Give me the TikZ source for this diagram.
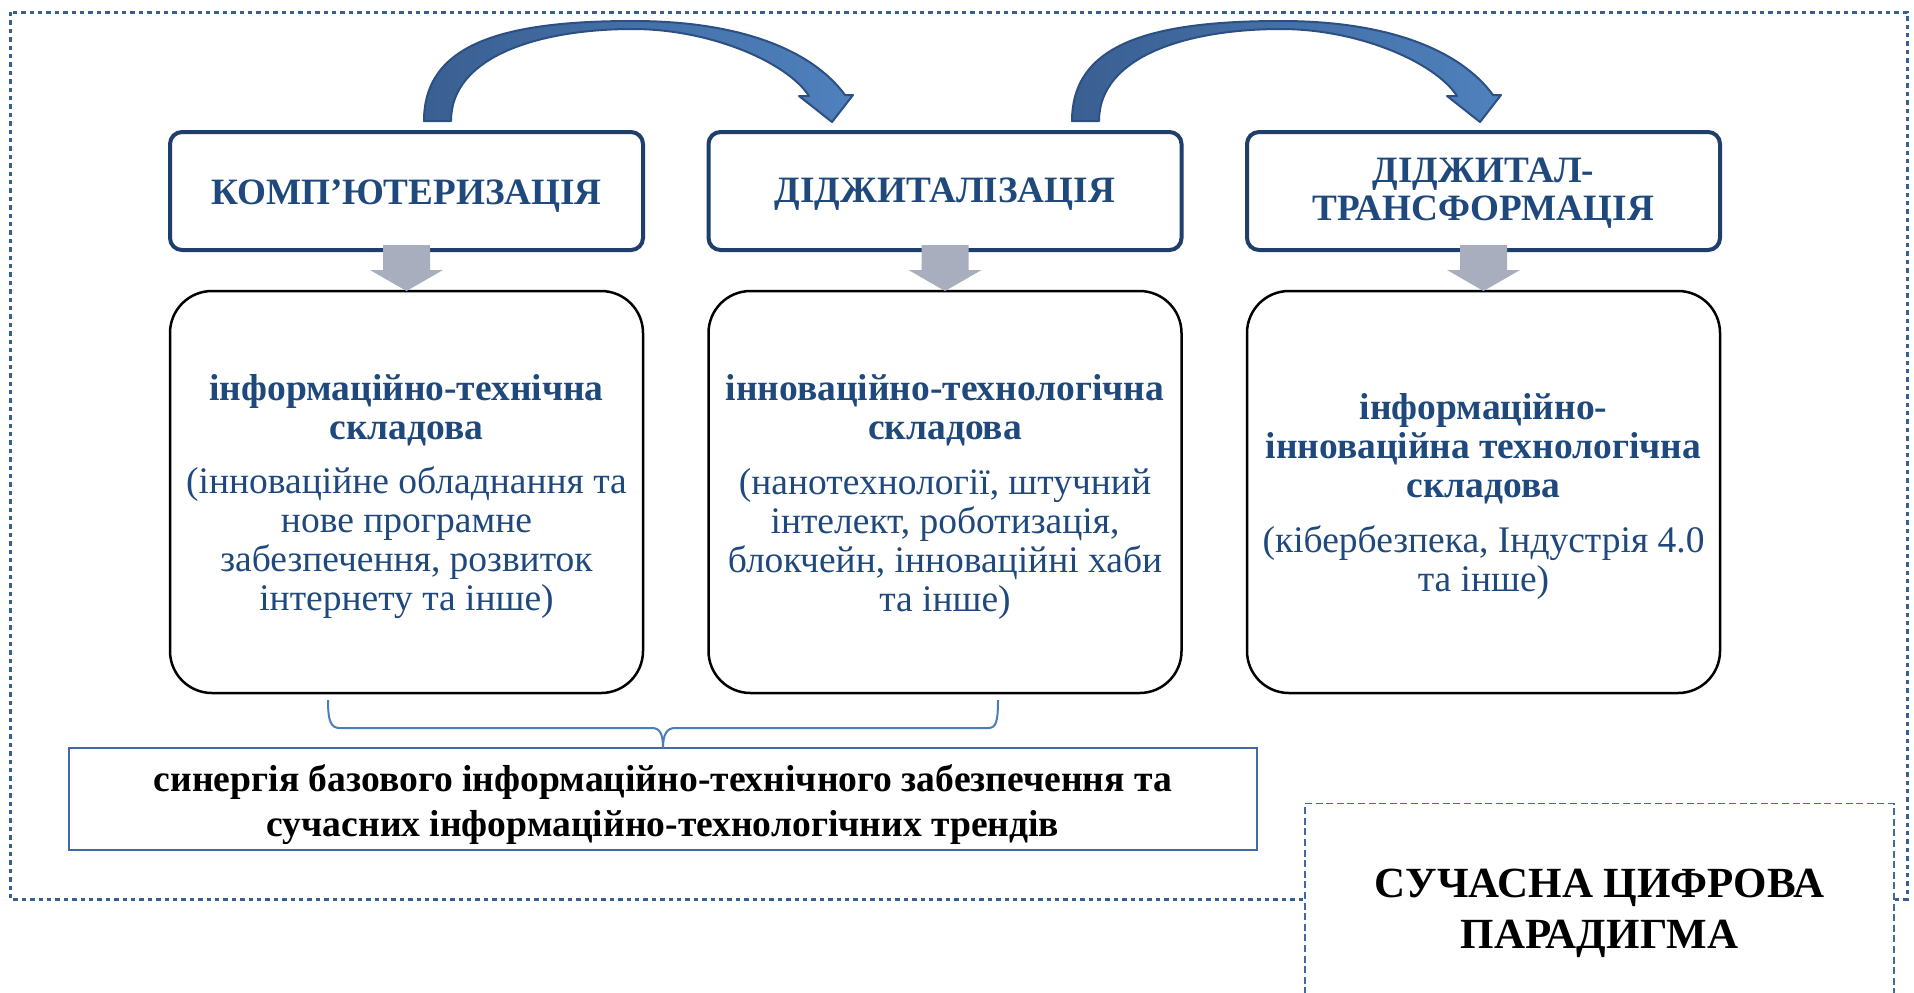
\documentclass[tikz,border=0pt]{standalone}
\usepackage{fontspec}
\setmainfont{Liberation Serif}
\usetikzlibrary{calc}
\definecolor{hdrborder}{RGB}{31,62,108}
\definecolor{hdrtext}{RGB}{31,73,125}
\definecolor{bodytext}{RGB}{31,73,125}
\definecolor{graya}{RGB}{168,174,190}
\definecolor{framecol}{RGB}{56,95,145}
\definecolor{bracecol}{RGB}{74,126,187}
\definecolor{synborder}{RGB}{65,105,165}
\definecolor{arrowdark}{RGB}{58,95,146}
\definecolor{arrowlight}{RGB}{79,129,189}
\definecolor{arrowedge}{RGB}{45,80,130}
\tikzset{
  hdrbox/.style={draw=hdrborder, line width=2pt, rounded corners=6pt, fill=white,
    minimum width=236.5pt, minimum height=59pt, inner sep=0pt, outer sep=0pt},
  hdrtxt/.style={inner sep=0pt, align=center, text=hdrtext, font=\fontsize{18.6}{19}\selectfont\bfseries},
  lowbox/.style={draw=black, line width=1.25pt, rounded corners=21pt, fill=white,
    minimum width=236.5pt, minimum height=201pt, inner sep=0pt, outer sep=0pt},
  lowtxt/.style={inner sep=0pt, align=center, text=bodytext, font=\fontsize{18.75}{19.5}\selectfont},
  downarrow/.style={fill=graya, draw=none},
  framebox/.style={draw=framecol, line width=1.5pt, dash pattern=on 2.2pt off 2pt},
  bracestyle/.style={draw=bracecol, line width=1pt},
  synbox/.style={draw=synborder, line width=0.75pt, fill=white,
    minimum width=594pt, minimum height=51pt, inner sep=0pt, outer sep=0pt},
  syntxt/.style={inner sep=0pt, align=center, text=black, font=\fontsize{18.8}{22.5}\selectfont\bfseries},
  parbox/.style={draw=synborder, line width=0.6pt, dash pattern=on 3.5pt off 1.8pt, fill=white,
    minimum width=294.5pt, minimum height=103.5pt, inner sep=0pt, outer sep=0pt},
  partxt/.style={inner sep=0pt, align=center, text=black, font=\fontsize{21.5}{25.5}\selectfont\bfseries},
  curvarr/.pic={
    \path[left color=arrowdark, right color=arrowlight, draw=arrowedge, line width=1pt, line join=round]
      (17.5,-11) .. controls (17.5,-87) and (93.5,-111) .. (226.5,-111)
      .. controls (333.5,-111) and (405.5,-82) .. (438.5,-37)
      -- (446.5,-37) -- (425.5,-10) -- (392.5,-36) -- (402.5,-36)
      .. controls (380.5,-70) and (303.5,-103) .. (226.5,-103)
      .. controls (133.5,-103) and (44.5,-76) .. (44.5,-11) -- cycle;
  }
}
\newcommand{\grayarr}[2]{%
  \path[downarrow] ($(#1.south)+(-23.5,-5)$) -- ($(#1.south)+(23.5,-5)$)
    -- ($(#1.south)+(23.5,20)$) -- ($(#1.south)+(36.5,20)$) -- (#2.north)
    -- ($(#1.south)+(-36.5,20)$) -- ($(#1.south)+(-23.5,20)$) -- cycle;}
\begin{document}
\begin{tikzpicture}[x=0.5pt,y=-0.5pt]
\useasboundingbox (0,0) rectangle (1914,992);
\clip (0,0) rectangle (1914,992);
% outer dotted frame
\draw[framebox] (10,12) rectangle (1907,899);
% header boxes
\node[hdrbox] (h1) at (406.5,191) {};
\node[hdrbox] (h2) at (945,191) {};
\node[hdrbox] (h3) at (1483.5,191) {};
\node[hdrtxt] (ht1) at ($(h1.center)+(0,5)$) {КОМП’ЮТЕРИЗАЦІЯ};
\node[hdrtxt] (ht2) at ($(h2.center)+(0,3)$) {ДІДЖИТАЛІЗАЦІЯ};
\node[hdrtxt] (ht3) at ($(h3.center)+(0,2)$) {ДІДЖИТАЛ-\\ТРАНСФОРМАЦІЯ};
% lower boxes
\node[lowbox] (l1) at (406.5,492) {};
\node[lowbox] (l2) at (945,492) {};
\node[lowbox] (l3) at (1483.5,492) {};
\node[lowtxt] (lt1) at ($(l1.center)+(0,5)$) {\textbf{інформаційно-технічна}\\\textbf{складова}\\[7.5pt]
  (інноваційне обладнання та\\нове програмне\\забезпечення, розвиток\\інтернету та інше)};
\node[lowtxt] (lt2) at ($(l2.center)+(0,5)$) {\textbf{інноваційно-технологічна}\\\textbf{складова}\\[8pt]
  (нанотехнології, штучний\\інтелект, роботизація,\\блокчейн, інноваційні хаби\\та інше)};
\node[lowtxt] (lt3) at ($(l3.center)+(0,4)$) {\textbf{інформаційно-}\\\textbf{інноваційна технологічна}\\\textbf{складова}\\[8pt]
  (кібербезпека, Індустрія 4.0\\та інше)};
% gray arrows
\grayarr{h1}{l1}
\grayarr{h2}{l2}
\grayarr{h3}{l3}
% curved arrows
\pic at (h1.north) {curvarr};
\pic at ($(h1.north)+(648,0)$) {curvarr};
% synergy box
\node[synbox] (syn) at (663,799) {};
\node[syntxt] (synt) at ($(syn.center)+(0,6)$) {синергія базового інформаційно-технічного забезпечення та\\сучасних інформаційно-технологічних трендів};
% brace
\coordinate (bl) at (328,700);
\coordinate (br) at (998,700);
\draw[bracestyle] (bl) .. controls (328,722) and (331,728) .. (340,728) -- (652,728)
  .. controls (660,728) and (663,734) .. (syn.north)
  .. controls (663,734) and (667,728) .. (675,728) -- (988,728)
  .. controls (996,728) and (998,722) .. (br);
% paradigm box
\node[parbox] (par) at (1599.5,907) {};
\node[partxt] (part) at ($(par.center)+(0,6)$) {СУЧАСНА ЦИФРОВА\\ПАРАДИГМА};
\end{tikzpicture}
\end{document}
